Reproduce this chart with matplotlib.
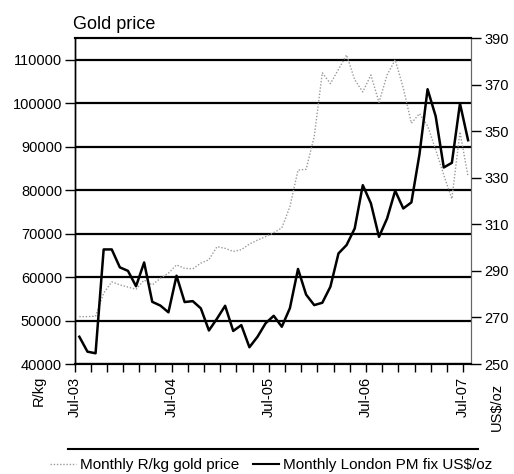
import matplotlib
matplotlib.use('Agg')
from matplotlib import pyplot as plt
from matplotlib.lines import Line2D

# monthly points, Jul-03 .. Jul-07
months = list(range(49))
rand_kg = [50900, 50900, 51000, 56300, 58900, 58200, 57700, 57200, 59300, 58200,
           59700, 60900, 62800, 62000, 61900, 63200, 64000, 67000, 66600, 65900,
           66300, 67600, 68500, 69300, 70200, 71300, 76200, 84600, 84800, 92300,
           107000, 104500, 107800, 111100, 105400, 102600, 106500, 100200, 106500, 110000,
           103500, 95400, 97600, 94800, 89300, 83500, 78000, 93400, 83100]
usd_oz = [261.7, 255.3, 254.6, 299.2, 299.2, 291.5, 290.0, 283.4, 293.6, 276.7,
          275.1, 272.2, 287.9, 276.6, 277.0, 273.9, 264.4, 269.5, 275.0, 264.2,
          266.7, 257.2, 261.7, 267.5, 270.7, 266.0, 274.0, 290.8, 279.8, 275.3,
          276.3, 283.2, 297.5, 301.1, 308.2, 326.8, 319.0, 304.6, 312.5, 324.4,
          316.8, 319.4, 340.1, 368.0, 356.4, 334.4, 336.4, 361.9, 346.1]
year_labels = ['Jul-03', 'Jul-04', 'Jul-05', 'Jul-06', 'Jul-07']

plt.rcParams['font.family'] = ['Liberation Sans', 'DejaVu Sans']

W, H = 514, 474
fig = plt.figure(figsize=(W / 100, H / 100), dpi=100)
ax = fig.add_axes([74.5 / W, 1 - 364 / H, 396 / W, 326 / H])
ax2 = ax.twinx()

x = [m + 0.6 for m in months]
ax.plot(x, rand_kg, color='#9a9a9a', lw=1.0, ls=(0, (1, 1.3)))
ax2.plot(x, usd_oz, color='black', lw=1.8)

ax.set_xlim(0, 48.9)
ax.set_ylim(40000, 115000)
ax.set_yticks(range(40000, 110001, 10000))
ax2.set_ylim(250, 390)
ax2.set_yticks(range(250, 391, 20))

xt = list(range(0, 49, 2))
ax.set_xticks(xt)
ax.set_xticklabels([year_labels[t // 12] if t % 12 == 0 else '' for t in xt],
                   rotation=90, fontsize=10.5)

ax.grid(axis='y', color='black', lw=1.6)
ax.tick_params(axis='y', labelsize=10.5, length=7, width=1, pad=2)
ax.tick_params(axis='x', length=6, width=1, pad=3)
ax2.tick_params(axis='y', labelsize=10.5, length=7, width=1, pad=3)

for a in (ax, ax2):
    a.spines['left'].set_linewidth(1.0)
    a.spines['bottom'].set_linewidth(1.5)
    a.spines['top'].set_linewidth(1.5)
    a.spines['right'].set_color('#666666')
    a.spines['right'].set_linewidth(0.8)

fig.text(73 / W, 1 - 29 / H, 'Gold price', fontsize=13, va='baseline')
fig.text(39 / W, 1 - 391 / H, 'R/kg', rotation=90, fontsize=10.5, ha='center', va='center')
fig.text(497 / W, 1 - 407 / H, 'US$/oz', rotation=90, fontsize=10.5, ha='center', va='center')

fig.add_artist(Line2D([68 / W, 478 / W], [1 - 449 / H, 1 - 449 / H], color='black', lw=1.5))
handles = [Line2D([], [], color='#9a9a9a', lw=1.0, ls=(0, (1, 1.3))),
           Line2D([], [], color='black', lw=1.5)]
fig.legend(handles, ['Monthly R/kg gold price', 'Monthly London PM fix US$/oz'],
           loc='center left', bbox_to_anchor=(50 / W, 1 - 465 / H), ncol=2,
           frameon=False, fontsize=11, handlelength=1.7, handletextpad=0.25,
           columnspacing=0.9, borderaxespad=0, borderpad=0)

fig.savefig('out.png', dpi=100)
